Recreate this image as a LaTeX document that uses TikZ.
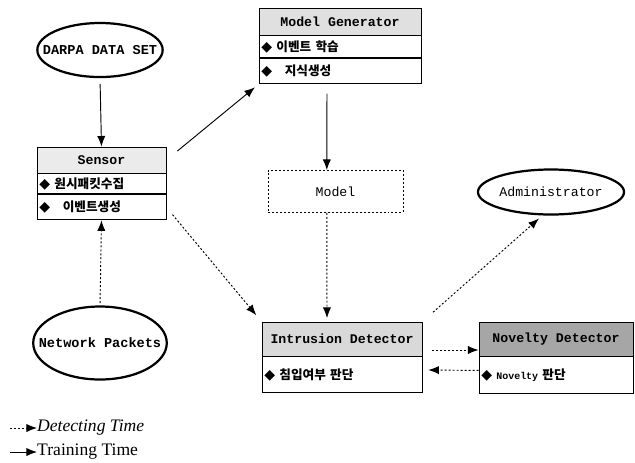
\documentclass[tikz,border=0pt]{standalone}
\usepackage{fontspec}
\setmainfont{Liberation Serif}
\setmonofont{Liberation Mono}
\newfontfamily\krfont{Noto Sans CJK KR}
\newfontfamily\symfont{DejaVu Sans}
\usetikzlibrary{shapes.geometric,arrows.meta}
\def\dia{{\symfont\fontsize{12}{12}\selectfont\char"25C6}}

\tikzset{
  head/.style={draw, line width=0.8pt, inner sep=0pt, font=\ttfamily\bfseries\fontsize{11.3}{13}\selectfont},
  row/.style={draw, line width=0.8pt, inner xsep=2pt, inner ysep=0pt, anchor=north, align=left,
    text width=#1, font=\krfont\bfseries\fontsize{10.8}{12}\selectfont},
  blob/.style={ellipse, draw, line width=1.9pt, inner ysep=0pt, inner xsep=#1, font=\ttfamily\bfseries\fontsize{11.6}{13}\selectfont},
  flow/.style={-{Latex[length=9pt,width=7pt]}, line width=0.8pt},
  detect/.style={flow, dash pattern=on 1.7pt off 1.7pt}
}

\begin{document}
\begin{tikzpicture}[x=0.03cm, y=-0.03cm]
		%%%%% START %%%%%
		\useasboundingbox (0, 0) rectangle (635, 462);
		
		% sources
		\node[blob=-10.9pt, minimum height=1.62cm] (darpa) at (100, 50) {DARPA DATA SET};
		\node[blob=-11.9pt, minimum height=2.19cm] (net) at (100, 343) {Network Packets};
		\node[blob=0pt, minimum width=4.29cm, minimum height=1.35cm, font=\ttfamily\fontsize{11.3}{13}\selectfont] (admin) at (551, 192) {Administrator};
		
		% sensor
		\node[head, fill=black!8, minimum width=3.87cm, minimum height=0.78cm] (sensor) at (101.5, 160) {Sensor};
		\node[row=3.87cm-4pt, minimum height=0.6cm] (sensorA) at (sensor.south) {\dia\ 원시패킷수집};
		\node[row=3.87cm-4pt, minimum height=0.75cm] (sensorB) at (sensorA.south) {\dia\quad 이벤트생성};
		
		% model generator
		\node[head, fill=black!12, minimum width=4.86cm, minimum height=0.81cm] (mgen) at (340, 21.5) {Model Generator};
		\node[row=4.86cm-4pt, minimum height=0.66cm] (mgenA) at (mgen.south) {\dia\ 이벤트 학습};
		\node[row=4.86cm-4pt, minimum height=0.75cm] (mgenB) at (mgenA.south) {\dia\quad 지식생성};
		
		\node[draw, line width=0.8pt, dash pattern=on 1.7pt off 1.7pt, minimum width=4.05cm, minimum height=1.26cm,
		  font=\ttfamily\fontsize{11.3}{13}\selectfont] (model) at (335.5, 191.5) {Model};
		
		% detectors
		\node[head, fill=black!15, minimum width=4.8cm, minimum height=1.02cm] (intr) at (342, 339) {Intrusion Detector};
		\node[row=4.8cm-4pt, minimum height=1.08cm] (intrA) at (intr.south) {\dia\ 침입여부 판단};
		\node[head, fill=black!35, minimum width=4.62cm, minimum height=1.02cm] (nov) at (556, 339) {Novelty Detector};
		\node[row=4.62cm-4pt, minimum height=1.11cm] (novA) at (nov.south) {\dia\ {\ttfamily\fontsize{8.5}{10}\selectfont Novelty} 판단};
		
		% training
		\draw[flow, shorten <=5pt] (darpa.south) -- (sensor.north);
		\draw[flow, shorten <=12pt, shorten >=4pt] (sensor.east) -- (mgenB.south west);
		\draw[flow, shorten <=8pt] ([xshift=-0.39cm]mgenB.south) -- ([xshift=-0.26cm]model.north);
		
		% detecting
		\draw[detect, shorten <=2pt] (net.north) -- (sensorB.south);
		\draw[detect, shorten <=8pt, shorten >=7pt] (sensorB.east) -- (intr.north west);
		\draw[detect, shorten >=3pt] ([xshift=-0.26cm]model.south) -- ([xshift=-0.45cm]intr.north);
		\draw[detect, shorten <=12pt, shorten >=4pt] (intr.north east) -- (admin.250);
		\draw[detect, shorten <=8pt] ([yshift=-0.33cm]intr.east) -- ([yshift=-0.33cm]nov.west);
		\draw[detect, shorten >=5pt] ([yshift=0.15cm]novA.west) -- ([yshift=0.15cm]intrA.east);
		
		% legend
		\node[anchor=west, inner sep=0pt, font=\itshape\fontsize{15}{17}\selectfont] (legD) at (37, 428) {Detecting Time};
		\node[anchor=west, inner sep=0pt, font=\fontsize{15}{17}\selectfont] (legT) at (37, 452) {Training Time};
		\coordinate (legD0) at (10, 428);
		\coordinate (legT0) at (10, 452);
		\draw[detect] (legD0) -- (legD.west);
		\draw[flow] (legT0) -- (legT.west);
		
		%%%%% END %%%%%
	\end{tikzpicture}
\end{document}
